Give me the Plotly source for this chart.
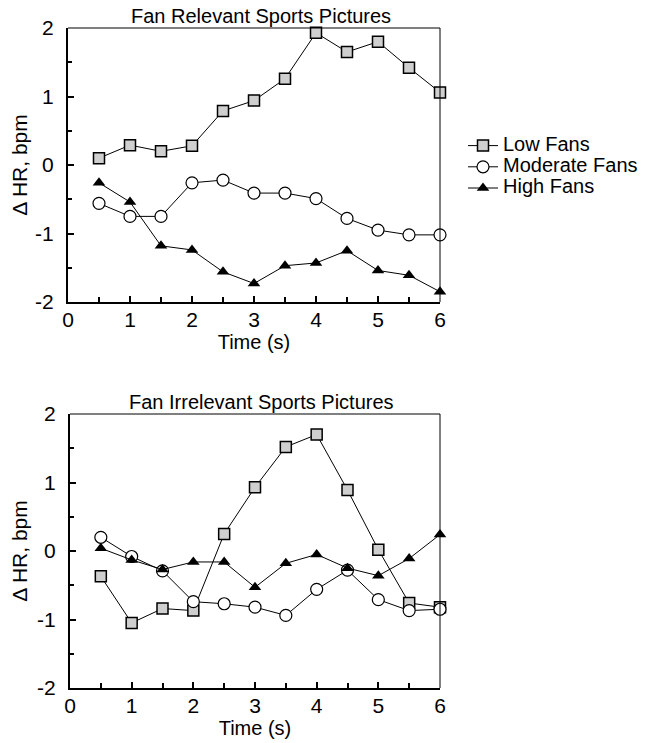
import plotly.graph_objects as go

time_s = [0.5, 1, 1.5, 2, 2.5, 3, 3.5, 4, 4.5, 5, 5.5, 6]

# Fan Relevant Sports Pictures
rel_low = [0.10, 0.29, 0.20, 0.28, 0.79, 0.94, 1.26, 1.93, 1.65, 1.80, 1.42, 1.06]
rel_mod = [-0.56, -0.75, -0.75, -0.26, -0.22, -0.41, -0.41, -0.49, -0.78, -0.95, -1.02, -1.02]
rel_high = [-0.26, -0.54, -1.18, -1.24, -1.56, -1.73, -1.47, -1.43, -1.25, -1.54, -1.61, -1.85]

# Fan Irrelevant Sports Pictures
irr_low = [-0.37, -1.05, -0.84, -0.87, 0.25, 0.93, 1.52, 1.70, 0.89, 0.02, -0.76, -0.82]
irr_mod = [0.20, -0.08, -0.29, -0.74, -0.77, -0.82, -0.94, -0.56, -0.28, -0.71, -0.87, -0.85]
irr_high = [0.04, -0.13, -0.27, -0.16, -0.16, -0.53, -0.18, -0.05, -0.25, -0.36, -0.11, 0.24]

series_names = ["Low Fans", "Moderate Fans", "High Fans"]
x_ticks = [0, 1, 2, 3, 4, 5, 6]
y_ticks = [-2, -1, 0, 1, 2]
titles = ["Fan Relevant Sports Pictures", "Fan Irrelevant Sports Pictures"]

FONT = "Liberation Sans, Arial, Helvetica, sans-serif"
OFF = 8  # page body margin
W, H = 647 - OFF, 743 - OFF

styles = [
    dict(symbol="square", size=11, color="#cfcfcf", line=dict(color="black", width=1.5)),
    dict(symbol="circle", size=12, color="white", line=dict(color="black", width=1.2)),
    dict(symbol="triangle-up", size=11, color="black", line=dict(color="black", width=0)),
]

fig = go.Figure()
panels = [
    (rel_low, rel_mod, rel_high, "x", "y"),
    (irr_low, irr_mod, irr_high, "x2", "y2"),
]
for pi, (lo, mo, hi, xa, ya) in enumerate(panels):
    for si, vals in enumerate([lo, mo, hi]):
        fig.add_trace(go.Scatter(
            x=time_s, y=vals, mode="lines+markers",
            name='<span style="font-size:20px">' + series_names[si] + "</span>",
            line=dict(color="black", width=1),
            marker=styles[si], xaxis=xa, yaxis=ya,
            showlegend=(pi == 0), cliponaxis=False,
        ))

def px_x(p):
    return (p - OFF) / W

def px_y(p):
    return 1 - (p - OFF) / H

axis_common = dict(
    showgrid=False, zeroline=False, showline=True, linecolor="black", linewidth=2,
    ticks="inside", ticklen=6, tickwidth=1.5, tickcolor="black",
    tickfont=dict(family=FONT, size=21, color="black"),
)
xdom1 = [px_x(68), px_x(440)]
xdom2 = [px_x(70), px_x(440)]
ydom1 = [px_y(302), px_y(28)]
ydom2 = [px_y(688), px_y(414)]

for i, (xd, yd, xn, yn) in enumerate([(xdom1, ydom1, "xaxis", "yaxis"), (xdom2, ydom2, "xaxis2", "yaxis2")]):
    anchor_x = "y" if i == 0 else "y2"
    anchor_y = "x" if i == 0 else "x2"
    fig.layout[xn] = dict(
        axis_common, domain=xd, anchor=anchor_x, range=[0, 6], tickmode="array",
        tickvals=x_ticks, ticktext=[str(v) for v in x_ticks], ticklabelstandoff=-2,
        minor=dict(dtick=0.5, ticks="inside", ticklen=5, tickcolor="black"),
        title=dict(text="Time (s)", font=dict(family=FONT, size=20, color="black"), standoff=0),
    )
    fig.layout[yn] = dict(
        axis_common, domain=yd, anchor=anchor_y, range=[-2, 2], tickmode="array",
        tickvals=y_ticks, ticktext=[str(v) for v in y_ticks], ticklabelstandoff=8,
        minor=dict(dtick=0.5, ticks="inside", ticklen=4, tickcolor="black"),
        title=dict(text="Δ HR, bpm", font=dict(family=FONT, size=21, color="black"), standoff=6),
    )
    # thin top and right frame lines
    xr = "x domain" if i == 0 else "x2 domain"
    yr = "y domain" if i == 0 else "y2 domain"
    fig.add_shape(type="line", xref=xr, yref=yr, x0=0, x1=1, y0=1, y1=1, line=dict(color="black", width=1))
    fig.add_shape(type="line", xref=xr, yref=yr, x0=1, x1=1, y0=0, y1=1, line=dict(color="black", width=1))
    fig.add_annotation(
        text=titles[i], xref="paper", yref="paper",
        x=px_x(261), y=yd[1], yanchor="bottom", xanchor="center", borderpad=0,
        showarrow=False, yshift=0, font=dict(family=FONT, size=20, color="black"),
    )

fig.update_layout(
    width=W, height=H, margin=dict(l=0, r=0, t=0, b=0, autoexpand=False),
    paper_bgcolor="white", plot_bgcolor="white",
    showlegend=True,
    legend=dict(
        x=px_x(463), y=px_y(130), xanchor="left", yanchor="top",
        font=dict(family=FONT, size=14, color="black"),
        bgcolor="rgba(0,0,0,0)", tracegroupgap=0, itemwidth=30,
    ),
    font=dict(family=FONT, color="black"),
)

fig.write_html("out.html")
